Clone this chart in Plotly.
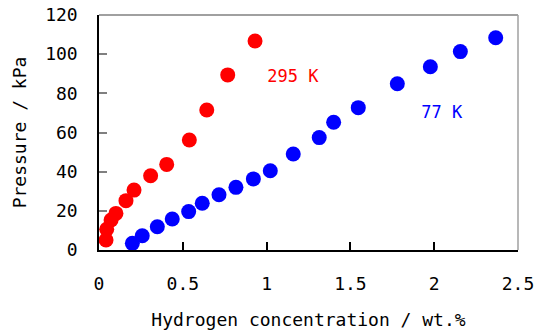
import plotly.graph_objects as go

x_295 = [0.042, 0.046, 0.072, 0.101, 0.161, 0.209, 0.308, 0.404, 0.539, 0.643, 0.768, 0.931]
p_295 = [5.1, 10.6, 15.3, 18.7, 25.2, 30.6, 37.9, 43.7, 56.2, 71.5, 89.4, 106.7]

x_77 = [0.199, 0.258, 0.348, 0.437, 0.535, 0.616, 0.716, 0.817, 0.921, 1.022,
        1.159, 1.314, 1.400, 1.547, 1.780, 1.977, 2.156, 2.367]
p_77 = [3.4, 7.3, 11.9, 15.8, 19.6, 23.9, 28.2, 32.0, 36.3, 40.5,
        49.0, 57.4, 65.2, 72.7, 84.9, 93.6, 101.3, 108.4]

x_ticks = [0, 0.5, 1, 1.5, 2, 2.5]
x_tick_text = ["0", "0.5", "1", "1.5", "2", "2.5"]
y_ticks = [0, 20, 40, 60, 80, 100, 120]

labels = ["295 K", "77 K"]
label_x = [1.157, 2.045]
label_y = [87.8, 69.5]

FONT = "DejaVu Sans Mono"

fig = go.Figure()
fig.add_trace(go.Scatter(x=x_295, y=p_295, mode="markers",
                         marker=dict(color="#ff0000", size=15, line=dict(width=0)),
                         showlegend=False, cliponaxis=False))
fig.add_trace(go.Scatter(x=x_77, y=p_77, mode="markers",
                         marker=dict(color="#0000ff", size=15, line=dict(width=0)),
                         showlegend=False, cliponaxis=False))
fig.add_trace(go.Scatter(x=label_x, y=label_y, mode="text", text=labels,
                         textfont=dict(family=FONT, size=17, color=["#ff0000", "#0000ff"]),
                         showlegend=False))

fig.add_shape(type="line", xref="paper", yref="paper", x0=0, x1=1, y0=1, y1=1,
              line=dict(color="#808080", width=1.5))
fig.add_shape(type="line", xref="paper", yref="paper", x0=1, x1=1, y0=0, y1=1,
              line=dict(color="#a0a0a0", width=1.5))

fig.update_layout(
    width=536, height=330,
    margin=dict(l=99, r=18, t=15, b=80),
    paper_bgcolor="white", plot_bgcolor="white",
    font=dict(family=FONT, size=18, color="black"),
    hovermode=False,
    xaxis=dict(range=[0, 2.5], tickvals=x_ticks, ticktext=x_tick_text, automargin=False,
               showgrid=False, zeroline=False, showline=True, linecolor="black", linewidth=1.5,
               ticks="inside", ticklen=8, tickcolor="black", tickwidth=1.5,
               ticklabelstandoff=17,
               title=dict(text="Hydrogen concentration / wt.%", standoff=21,
                          font=dict(family=FONT, size=18))),
    yaxis=dict(range=[0, 120], tickvals=y_ticks, automargin=False,
               showgrid=False, zeroline=False, showline=True, linecolor="black", linewidth=1.5,
               ticks="inside", ticklen=8, tickcolor="#808080", tickwidth=1.5,
               ticklabelstandoff=16,
               title=dict(text="Pressure / kPa", standoff=14,
                          font=dict(family=FONT, size=18))),
)

fig.write_html("out.html", config={"displayModeBar": False},
               post_script="document.body.style.margin='0';document.body.style.overflow='hidden';")
